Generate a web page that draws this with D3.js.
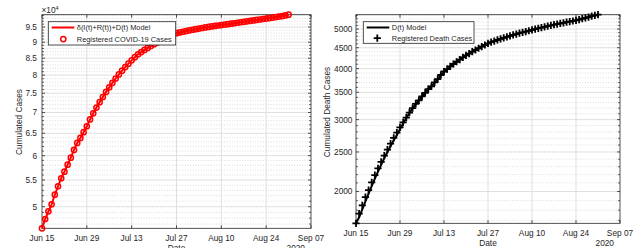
<!DOCTYPE html>
<html>
<head>
<meta charset="utf-8">
<script src="https://cdn.jsdelivr.net/npm/d3@7"></script>
<style>
  body { margin: 0; background: #fff; }
  svg text { font-family: "Liberation Sans", Arial, sans-serif; fill: #262626; }
</style>
</head>
<body>
<svg id="chart" width="642" height="248"></svg>
<script>
// Egypt, cumulated cases and deaths, 15 Jun - 31 Aug 2020
const startDay = "2020-06-15";

const registeredCases = [
    46289, 47850, 49180, 50430, 52190, 53790, 55350, 56670, 58110, 59580,
    61240, 62800, 63930, 65250, 66650, 68300, 69800, 71250, 72650, 74000,
    75350, 76600, 77850, 79050, 80200, 81300, 82350, 83350, 84350, 85300,
    86200, 86880, 87540, 88170, 88780, 89370, 89940, 90490, 91020, 91530,
    92020, 92490, 92940, 93190, 93430, 93660, 93880, 94090, 94290, 94490,
    94680, 94870, 95040, 95210, 95370, 95530, 95690, 95840, 95990, 96140,
    96310, 96480, 96650, 96810, 96970, 97130, 97290, 97450, 97610, 97770,
    97930, 98100, 98270, 98450, 98630, 98820, 99040, 99290
];

const registeredDeaths = [
    1672, 1766, 1850, 1938, 2017, 2106, 2193, 2278, 2365, 2450,
    2533, 2620, 2708, 2789, 2872, 2953, 3034, 3120, 3201, 3280,
    3343, 3422, 3489, 3564, 3617, 3702, 3769, 3858, 3935, 3990,
    4050, 4105, 4158, 4210, 4260, 4310, 4355, 4400, 4443, 4486,
    4528, 4570, 4610, 4642, 4672, 4702, 4731, 4759, 4786, 4812,
    4836, 4860, 4884, 4907, 4930, 4952, 4975, 4997, 5019, 5041,
    5062, 5083, 5104, 5125, 5143, 5161, 5179, 5197, 5215, 5232,
    5250, 5275, 5300, 5325, 5350, 5375, 5398, 5421
];

const modelDeaths = [
    1672, 1730, 1808, 1892, 1976, 2062, 2150, 2238, 2326, 2414,
    2500, 2585, 2670, 2752, 2840, 2935, 3028, 3115, 3196, 3272,
    3346, 3418, 3488, 3556, 3622, 3690, 3765, 3848, 3925, 3988,
    4048, 4104, 4158, 4210, 4260, 4308, 4354, 4398, 4441, 4483,
    4524, 4565, 4602, 4637, 4669, 4700, 4729, 4757, 4784, 4810,
    4835, 4859, 4883, 4906, 4929, 4951, 4974, 4996, 5018, 5040,
    5061, 5082, 5103, 5123, 5142, 5161, 5179, 5197, 5215, 5233,
    5252, 5275, 5299, 5323, 5348, 5373, 5397, 5421
];

const xTickDates = ["2020-06-15", "2020-06-29", "2020-07-13", "2020-07-27", "2020-08-10", "2020-08-24", "2020-09-07"];
const xTickLabels = ["Jun 15", "Jun 29", "Jul 13", "Jul 27", "Aug 10", "Aug 24", "Sep 07"];
const caseTicks = [50000, 55000, 60000, 65000, 70000, 75000, 80000, 85000, 90000, 95000];
const deathTicks = [2000, 2500, 3000, 3500, 4000, 4500, 5000];

const svg = d3.select("#chart");
const parseDay = d3.utcParse("%Y-%m-%d");
const day0 = parseDay(startDay);
const dates = registeredCases.map((d, i) => d3.utcDay.offset(day0, i));

const AX = "#262626";
const GRID = "#dfdfdf";
const MINOR = "#cfcfcf";
const FS = "8.3px";

function drawPanel(p) {
    const g = svg.append("g");
    const x = d3.scaleUtc()
        .domain([parseDay(xTickDates[0]), parseDay(xTickDates[xTickDates.length - 1])])
        .range([p.left, p.right]);
    const y = d3.scaleLog()
        .domain([d3.min(p.values), d3.max(p.values)])
        .range([p.bottom, p.top]);

    // grid menor (punteado)
    const minorVals = d3.range(p.minorStart, p.minorEnd + 1, p.minorStep)
        .filter(v => v > y.domain()[0] && v < y.domain()[1] && !p.majors.includes(v));
    g.selectAll(".minor").data(minorVals).enter().append("line")
        .attr("x1", p.left).attr("x2", p.right)
        .attr("y1", d => y(d)).attr("y2", d => y(d))
        .attr("stroke", MINOR).attr("stroke-width", 0.7)
        .attr("stroke-dasharray", "1,1.6");

    // grid mayor
    g.selectAll(".hmaj").data(p.majors).enter().append("line")
        .attr("x1", p.left).attr("x2", p.right)
        .attr("y1", d => y(d)).attr("y2", d => y(d))
        .attr("stroke", GRID).attr("stroke-width", 1);
    g.selectAll(".vmaj").data(xTickDates.slice(1, -1)).enter().append("line")
        .attr("x1", d => x(parseDay(d))).attr("x2", d => x(parseDay(d)))
        .attr("y1", p.top).attr("y2", p.bottom)
        .attr("stroke", GRID).attr("stroke-width", 1);

    // caja y marcas
    g.append("rect")
        .attr("x", p.left).attr("y", p.top)
        .attr("width", p.right - p.left).attr("height", p.bottom - p.top)
        .attr("fill", "none").attr("stroke", AX).attr("stroke-width", 0.8);

    [p.left, p.right].forEach(edge => {
        const dir = edge === p.left ? 1 : -1;
        g.selectAll(null).data(minorVals).enter().append("line")
            .attr("x1", edge).attr("x2", edge + dir * 2)
            .attr("y1", d => y(d)).attr("y2", d => y(d))
            .attr("stroke", AX).attr("stroke-width", 0.7);
        g.selectAll(null).data(p.majors).enter().append("line")
            .attr("x1", edge).attr("x2", edge + dir * 3)
            .attr("y1", d => y(d)).attr("y2", d => y(d))
            .attr("stroke", AX).attr("stroke-width", 0.8);
    });
    [p.top, p.bottom].forEach(edge => {
        const dir = edge === p.bottom ? -1 : 1;
        g.selectAll(null).data(xTickDates).enter().append("line")
            .attr("x1", d => x(parseDay(d))).attr("x2", d => x(parseDay(d)))
            .attr("y1", edge).attr("y2", edge + dir * 3)
            .attr("stroke", AX).attr("stroke-width", 0.8);
    });

    // etiquetas de ejes
    g.selectAll(".ytl").data(p.majors).enter().append("text")
        .attr("x", p.left - p.tickGap).attr("y", d => y(d)).attr("dy", "0.35em")
        .attr("text-anchor", "end").style("font-size", FS)
        .text(p.tickFormat);
    g.selectAll(".xtl").data(xTickDates).enter().append("text")
        .attr("x", d => x(parseDay(d))).attr("y", p.bottom + 12.4)
        .attr("text-anchor", "middle").style("font-size", FS)
        .text((d, i) => xTickLabels[i]);
    g.append("text")
        .attr("x", (p.left + p.right) / 2).attr("y", p.bottom + 22.6)
        .attr("text-anchor", "middle").style("font-size", FS)
        .text("Date");
    g.append("text")
        .attr("x", p.right - 6).attr("y", p.bottom + 22.6)
        .attr("text-anchor", "end").style("font-size", FS)
        .text("2020");
    g.append("text")
        .attr("transform", `translate(${p.ylabelX},${p.ylabelY}) rotate(-90)`)
        .attr("text-anchor", "middle").style("font-size", FS)
        .text(p.ylabel);

    // modelo y datos
    const line = d3.line().x((d, i) => x(dates[i])).y(d => y(d));
    g.append("path").datum(p.model)
        .attr("d", line).attr("fill", "none")
        .attr("stroke", p.color).attr("stroke-width", 2);

    if (p.marker === "circle") {
        g.selectAll(".mk").data(p.values).enter().append("circle")
            .attr("cx", (d, i) => x(dates[i])).attr("cy", d => y(d)).attr("r", 2.6)
            .attr("fill", "none").attr("stroke", p.color).attr("stroke-width", 1.5);
    } else {
        g.selectAll(".mk").data(p.values).enter().append("path")
            .attr("transform", (d, i) => `translate(${x(dates[i])},${y(d)})`)
            .attr("d", "M-3.6,0H3.6M0,-3.6V3.6")
            .attr("stroke", p.color).attr("stroke-width", 1.8);
    }

    // leyenda
    const L = p.legend;
    const lg = g.append("g");
    lg.append("rect").attr("x", L.x).attr("y", L.y).attr("width", L.w).attr("height", L.h)
        .attr("fill", "#fff").attr("stroke", AX).attr("stroke-width", 0.8);
    lg.append("line").attr("x1", L.x + 3.4).attr("x2", L.x + 26).attr("y1", L.y + 5.8).attr("y2", L.y + 5.8)
        .attr("stroke", p.color).attr("stroke-width", 2);
    if (p.marker === "circle") {
        lg.append("circle").attr("cx", L.x + 15).attr("cy", L.y + 17.4).attr("r", 2.6)
            .attr("fill", "none").attr("stroke", p.color).attr("stroke-width", 1.5);
    } else {
        lg.append("path").attr("transform", `translate(${L.x + 14},${L.y + 16.4})`)
            .attr("d", "M-3.6,0H3.6M0,-3.6V3.6")
            .attr("stroke", p.color).attr("stroke-width", 1.8);
    }
    lg.selectAll("text").data(L.labels).enter().append("text")
        .attr("x", L.x + 28.5).attr("y", (d, i) => L.y + 5.8 + i * L.rowGap).attr("dy", "0.35em")
        .style("font-size", "7.4px")
        .text(d => d);

    return g;
}

drawPanel({
    left: 42, right: 311, top: 14.7, bottom: 228.3,
    values: registeredCases, model: registeredCases,
    majors: caseTicks, minorStart: 46000, minorEnd: 100000, minorStep: 1000,
    tickFormat: d => d3.format("~g")(d / 1e4), tickGap: 5,
    ylabel: "Cumulated Cases", ylabelX: 21.5, ylabelY: 122,
    color: "#ff0000", marker: "circle",
    legend: { x: 48.3, y: 21.7, w: 127.4, h: 23.3, rowGap: 12,
              labels: ["\u03b4(I(t)+R(t))+D(t) Model", "Registered COVID-19 Cases"] }
});

drawPanel({
    left: 356, right: 620, top: 14.7, bottom: 223.3,
    values: registeredDeaths, model: modelDeaths,
    majors: deathTicks, minorStart: 1700, minorEnd: 5400, minorStep: 100,
    tickFormat: d => String(d), tickGap: 3.5,
    ylabel: "Cumulated Death Cases", ylabelX: 330, ylabelY: 112,
    color: "#000000", marker: "plus",
    legend: { x: 363.3, y: 21.7, w: 110.7, h: 21.6, rowGap: 10.8,
              labels: ["D(t) Model", "Registered Death Cases"] }
});

// exponente del eje izquierdo
const expo = svg.append("text").attr("x", 41.5).attr("y", 13).style("font-size", FS);
expo.append("tspan").text("\u00d710");
expo.append("tspan").attr("dy", -3.5).style("font-size", "5.5px").text("4");
</script>
</body>
</html>
